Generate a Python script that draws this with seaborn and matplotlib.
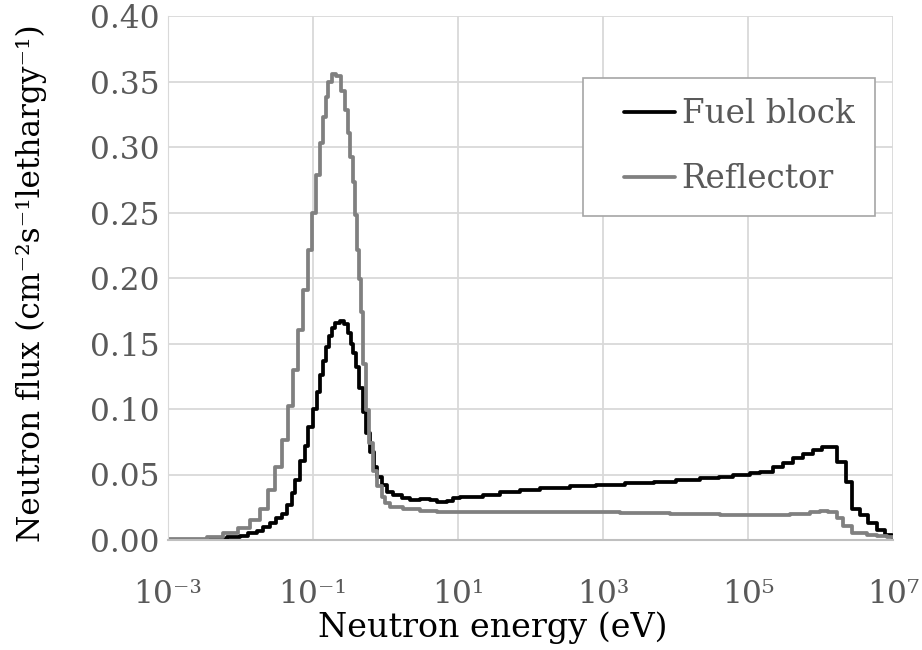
import matplotlib
matplotlib.use("Agg")
import numpy as np
import pandas as pd
import seaborn as sns
import matplotlib.pyplot as plt
from matplotlib.lines import Line2D
from matplotlib.legend_handler import HandlerLine2D
from matplotlib.ticker import FormatStrFormatter, NullLocator

# group lower edges (log10 of energy in eV) and flux per lethargy
fuel_log_e = [-3.0, -2.462, -2.186, -2.007, -1.897, -1.772, -1.690, -1.593, -1.510, -1.428,
              -1.359, -1.290, -1.248, -1.179, -1.110, -1.069, -1.000, -0.945, -0.903, -0.862,
              -0.821, -0.779, -0.738, -0.697, -0.628, -0.572, -0.517, -0.476, -0.448, -0.407,
              -0.366, -0.310, -0.269, -0.214, -0.159, -0.117, -0.048, 0.021, 0.103, 0.228,
              0.338, 0.476, 0.614, 0.710, 0.848, 0.931, 1.028, 1.345, 1.579, 1.85,
              2.131, 2.545, 2.9, 3.3, 3.7, 4.0, 4.338, 4.6, 4.793, 5.028,
              5.166, 5.345, 5.483, 5.621, 5.759, 5.897, 6.021, 6.103, 6.228, 6.352,
              6.434, 6.545, 6.655, 6.779, 6.890, 6.986]
fuel_flux = [0.0003, 0.001, 0.002, 0.003, 0.005, 0.007, 0.010, 0.013, 0.017, 0.020,
             0.027, 0.036, 0.046, 0.060, 0.072, 0.086, 0.100, 0.113, 0.126, 0.137,
             0.147, 0.156, 0.162, 0.166, 0.167, 0.165, 0.158, 0.150, 0.143, 0.132,
             0.116, 0.098, 0.082, 0.067, 0.056, 0.048, 0.042, 0.037, 0.034, 0.032,
             0.0305, 0.031, 0.0305, 0.029, 0.030, 0.032, 0.033, 0.034, 0.037, 0.038,
             0.040, 0.041, 0.042, 0.0435, 0.0445, 0.0455, 0.047, 0.048, 0.0496, 0.051,
             0.052, 0.056, 0.059, 0.0626, 0.066, 0.0687, 0.071, 0.0712, 0.0595, 0.044,
             0.024, 0.019, 0.013, 0.0076, 0.004, 0.002]

refl_log_e = [-3.0, -2.462, -2.241, -2.034, -1.869, -1.731, -1.621, -1.524, -1.428, -1.345,
              -1.276, -1.207, -1.138, -1.069, -1.014, -0.959, -0.903, -0.862, -0.821, -0.793,
              -0.738, -0.683, -0.614, -0.559, -0.517, -0.490, -0.448, -0.421, -0.393, -0.366,
              -0.338, -0.310, -0.269, -0.228, -0.172, -0.117, -0.048, -0.007, 0.062, 0.241,
              0.476, 0.710, 1.166, 1.855, 2.545, 3.234, 3.924, 4.614, 5.166, 5.579,
              5.855, 5.993, 6.103, 6.228, 6.310, 6.434, 6.641, 6.779, 6.917]
refl_flux = [0.0005, 0.002, 0.005, 0.009, 0.015, 0.024, 0.038, 0.056, 0.076, 0.102,
             0.130, 0.160, 0.191, 0.221, 0.250, 0.279, 0.303, 0.323, 0.338, 0.350,
             0.356, 0.354, 0.343, 0.328, 0.311, 0.292, 0.273, 0.248, 0.221, 0.199,
             0.174, 0.134, 0.099, 0.074, 0.053, 0.041, 0.033, 0.028, 0.025, 0.0237,
             0.0223, 0.0214, 0.0216, 0.0217, 0.0214, 0.0208, 0.0200, 0.0194, 0.0193, 0.0200,
             0.0212, 0.0218, 0.0210, 0.017, 0.011, 0.005, 0.004, 0.003, 0.002]

upper_log_e = 7.0
series_names = ["Fuel block", "Reflector"]
x_ticks = [1e-3, 1e-1, 1e1, 1e3, 1e5, 1e7]
x_tick_labels = ["10⁻³", "10⁻¹", "10¹", "10³", "10⁵", "10⁷"]

frames = []
for name, loge, flux in [(series_names[0], fuel_log_e, fuel_flux),
                         (series_names[1], refl_log_e, refl_flux)]:
    e = 10 ** np.array(loge + [upper_log_e])
    f = np.array(flux + [flux[-1]])
    frames.append(pd.DataFrame({"energy": e, "flux": f, "series": name}))
df = pd.concat(frames, ignore_index=True)

sns.set_style("whitegrid")
plt.rcParams["font.family"] = ["DejaVu Serif"]

fig = plt.figure(figsize=(9.22, 6.5), dpi=100)
ax = fig.add_axes([168 / 922, 110 / 650, 725 / 922, 524 / 650])

sns.lineplot(data=df, x="energy", y="flux", hue="series", hue_order=series_names,
             palette={"Fuel block": "black", "Reflector": "#808080"},
             drawstyle="steps-post", linewidth=2.7, estimator=None, sort=False, ax=ax)

ax.set_xscale("log")
ax.set_xlim(1e-3, 1e7)
ax.set_ylim(0, 0.40)
ax.set_xticks(x_ticks, labels=x_tick_labels)
ax.xaxis.set_minor_locator(NullLocator())
ax.set_yticks(np.arange(0, 0.401, 0.05))
ax.yaxis.set_major_formatter(FormatStrFormatter("%.2f"))

ax.grid(True, color="#d9d9d9", linewidth=1.3)
for s in ["top", "right"]:
    ax.spines[s].set_visible(False)
ax.spines["left"].set_color("#d9d9d9")
ax.spines["bottom"].set_color("#bfbfbf")
ax.spines["bottom"].set_linewidth(1.5)
ax.tick_params(length=0, labelsize=22.5, labelcolor="#595959")
ax.tick_params(axis="x", pad=28)
ax.tick_params(axis="y", pad=6)

ax.set_xlabel("Neutron energy (eV)", fontsize=24, color="black")
ax.xaxis.set_label_coords(0.448, -0.137)
ax.set_ylabel("Neutron flux (cm⁻²s⁻¹lethargy⁻¹)", fontsize=22.5, color="black")
ax.yaxis.set_label_coords(-0.167, 0.49)

handles, labels = ax.get_legend_handles_labels()
leg = ax.legend(handles, labels, loc="upper right", bbox_to_anchor=(0.975, 0.882),
                fontsize=23.5, frameon=True, fancybox=False, framealpha=1,
                edgecolor="#a6a6a6", handlelength=2.19, handletextpad=0.2,
                borderpad=0.63, labelspacing=1.0, borderaxespad=0,
                handler_map={Line2D: HandlerLine2D(xpad=0.63)})
leg.get_frame().set_linewidth(1.2)
for t in leg.get_texts():
    t.set_color("#595959")

fig.savefig("out.png", dpi=100)
